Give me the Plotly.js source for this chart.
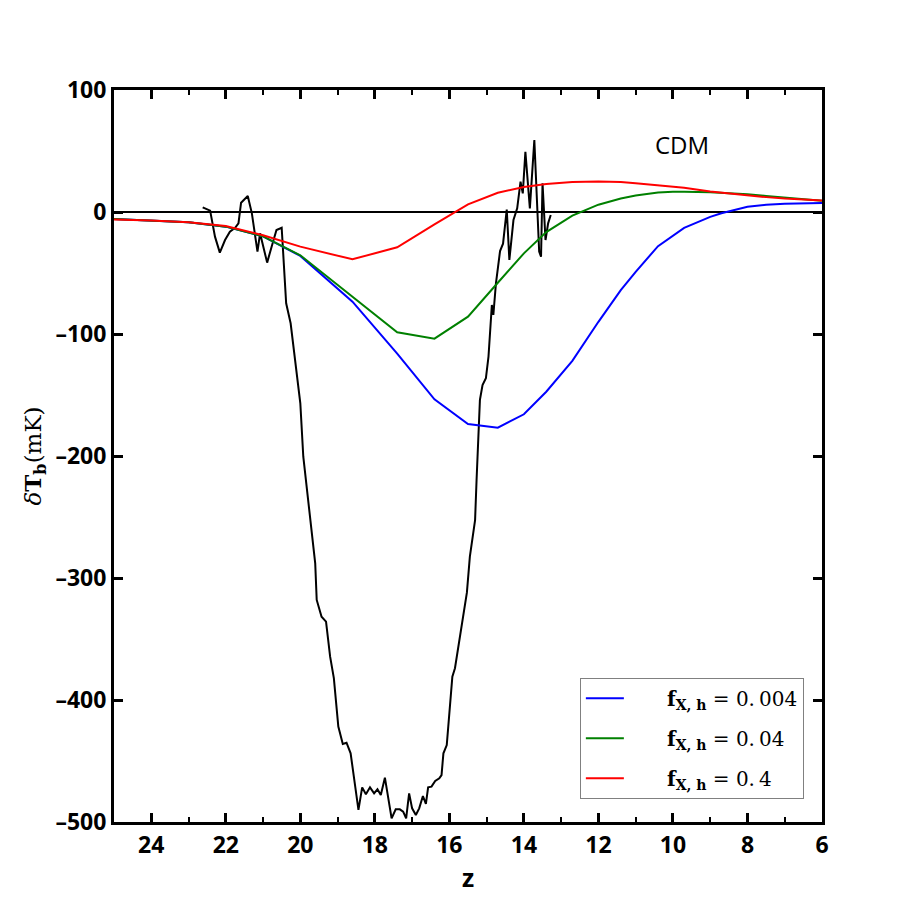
<!DOCTYPE html>
<html>
<head>
<meta charset="utf-8">
<script src="https://cdn.plot.ly/plotly-3.0.1.min.js"></script>
<style>html,body{margin:0;padding:0;background:#fff;}#chart{width:913px;height:913px;}</style>
</head>
<body>
<div id="chart"></div>
<script>
// Simulated curves (redshift z, brightness temperature mK)
const zSim = [25, 24, 23, 22, 21, 20, 18.6, 17.4, 16.4, 15.5, 14.7, 14.0, 13.4, 12.7, 12.0, 11.4, 11.0, 10.4, 10.0, 9.7, 9.0, 8.7, 8.0, 7.5, 7.0, 6.0];
const tBlue = [-5.7, -6.8, -8.5, -12, -20, -36, -73.5, -116, -153.5, -173.8, -176.8, -165.8, -147.3, -122, -90, -64, -49, -28, -19, -13, -4, -1, 4.3, 5.9, 6.8, 7.3];
const tGreen = [-5.7, -6.8, -8.5, -12, -20, -35.5, -69.4, -98.6, -103.8, -85.8, -58, -33.9, -16.5, -3, 6, 11, 13.5, 16, 16.5, 16.6, 16.2, 15.8, 14.5, 13.2, 12, 9.3];
const tRed = [-6.2, -7, -8.5, -11.5, -19, -28.4, -38.8, -28.9, -10.2, 6.3, 15.8, 20.5, 23, 24.5, 25, 24.5, 23.5, 21.8, 20.8, 19.8, 16.8, 15.8, 13.5, 12.2, 11, 9.5];

// Observed (black) profile
const zObs = [22.62, 22.42, 22.29, 22.16, 22.02, 21.89, 21.75, 21.66, 21.59, 21.51, 21.41, 21.30, 21.15, 21.08, 20.89, 20.77, 20.64, 20.50, 20.46, 20.38, 20.26, 20.14, 20.00, 19.92, 19.78, 19.67, 19.60, 19.56, 19.43, 19.31, 19.28, 19.20, 19.10, 18.98, 18.86, 18.76, 18.65, 18.44, 18.34, 18.24, 18.13, 18.02, 17.93, 17.84, 17.73, 17.55, 17.44, 17.33, 17.24, 17.16, 17.08, 17.00, 16.90, 16.81, 16.71, 16.63, 16.57, 16.48, 16.38, 16.27, 16.21, 16.16, 16.07, 16.00, 15.92, 15.85, 15.71, 15.63, 15.53, 15.45, 15.31, 15.27, 15.22, 15.18, 15.11, 15.02, 14.95, 14.89, 14.86, 14.82, 14.75, 14.64, 14.56, 14.46, 14.39, 14.28, 14.18, 14.09, 14.03, 13.96, 13.84, 13.72, 13.66, 13.59, 13.54, 13.50, 13.42, 13.35, 13.28];
const tObs = [3.8, 1.1, -20.2, -33.3, -23, -16.1, -12.9, -9.3, 7.6, 10.4, 13.1, -1.1, -32.5, -17.5, -41.5, -28.4, -14.8, -12.9, -36.6, -74.8, -91.2, -124, -156.8, -200.6, -238.8, -263.4, -288, -318, -331.7, -335.8, -342.6, -364.5, -382, -421.8, -436, -435, -443.7, -490, -471.6, -477.3, -471.6, -476.5, -473.2, -477.9, -463.7, -497, -489.6, -489.6, -491.5, -497, -476.5, -488.8, -494.3, -488.8, -478.7, -485.2, -471.6, -471, -466.4, -464.2, -461.5, -443.7, -436.9, -408.2, -380.9, -374, -345.3, -333, -312, -282.5, -252.5, -219.7, -176, -154, -141.8, -136.3, -118.6, -85.8, -76.2, -84.4, -58.4, -32, -26, 2, -39.3, -6.6, 3, 24.8, 15.3, 49.4, 3, 59, 12.6, -32.5, -36.6, 23.5, -23, -9.3, -2.5];

const pad = '\u00a0'.repeat(6);
const legendNames = [
  pad + '<b>f</b><sub><b>X, h</b></sub> = 0.\u2009004',
  pad + '<b>f</b><sub><b>X, h</b></sub> = 0.\u200904',
  pad + '<b>f</b><sub><b>X, h</b></sub> = 0.\u20094'
];
const xTickVals = [24, 22, 20, 18, 16, 14, 12, 10, 8, 6];
const yTickVals = [100, 0, -100, -200, -300, -400, -500];

const traces = [
  {x: zObs, y: tObs, mode: 'lines', line: {color: '#000000', width: 2}, showlegend: false, hoverinfo: 'skip'},
  {x: zSim, y: tBlue, mode: 'lines', name: legendNames[0], legendgroup: 'a', line: {color: '#0000ff', width: 2}},
  {x: zSim, y: tGreen, mode: 'lines', name: legendNames[1], legendgroup: 'b', line: {color: '#008000', width: 2}},
  {x: zSim, y: tRed, mode: 'lines', name: legendNames[2], legendgroup: 'c', line: {color: '#ff0000', width: 2}}
];

const layout = {
  width: 913, height: 913,
  margin: {l: 114, r: 91, t: 90, b: 91},
  paper_bgcolor: '#ffffff', plot_bgcolor: '#ffffff',
  showlegend: true,
  font: {family: 'Open Sans, sans-serif', color: '#000'},
  xaxis: {
    range: [25, 6], tickvals: xTickVals, ticktext: xTickVals.map(String),
    showgrid: false, zeroline: false,
    showline: true, linecolor: '#000', linewidth: 3, mirror: 'ticks',
    ticks: 'inside', ticklen: 9, tickwidth: 3, tickcolor: '#000',
    minor: {ticks: 'inside', ticklen: 5, tickwidth: 2, tickcolor: '#000', dtick: 1, tick0: 0, showgrid: false},
    tickfont: {family: 'Open Sans, sans-serif', size: 23, weight: 'bold', color: '#000'},
    title: {text: '<b>z</b>', font: {family: 'Open Sans, sans-serif', size: 25, color: '#000'}, standoff: 6}
  },
  yaxis: {
    range: [-500, 100], tickvals: yTickVals, ticktext: yTickVals.map(v => v < 0 ? '\u2013' + Math.abs(v) : String(v)),
    showgrid: false,
    zeroline: true, zerolinecolor: '#000', zerolinewidth: 2.5,
    showline: true, linecolor: '#000', linewidth: 3, mirror: 'ticks',
    ticks: 'inside', ticklen: 9, tickwidth: 3, tickcolor: '#000',
    tickfont: {family: 'Open Sans, sans-serif', size: 23, weight: 'bold', color: '#000'},
    title: {text: '<i>δ</i><b>T</b><sub><b>b</b></sub>(mK)', font: {family: 'DejaVu Serif, serif', size: 23, color: '#000'}, standoff: 8}
  },
  legend: {
    x: 0.658, y: 0.197, xanchor: 'left', yanchor: 'top',
    bgcolor: '#ffffff', bordercolor: '#808080', borderwidth: 1,
    font: {family: 'DejaVu Serif, serif', size: 20, color: '#000'},
    itemwidth: 38, tracegroupgap: 11
  },
  annotations: [
    {x: 9.76, y: 55.7, xref: 'x', yref: 'y', text: 'CDM', showarrow: false,
     font: {family: 'Open Sans, sans-serif', size: 24, color: '#000'}}
  ]
};

Plotly.newPlot('chart', traces, layout, {displayModeBar: false, staticPlot: true});
</script>
</body>
</html>
